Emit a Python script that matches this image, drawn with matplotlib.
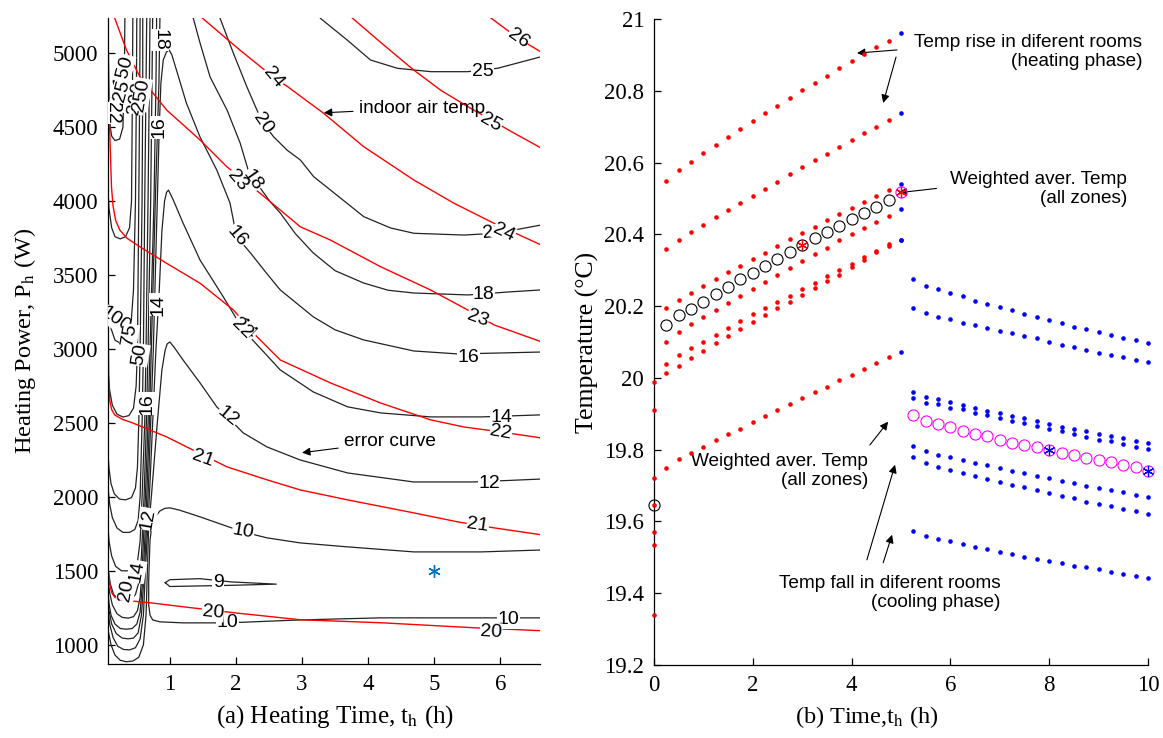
import matplotlib
matplotlib.use("Agg")
import matplotlib.pyplot as plt

plt.rcParams['font.family'] = ['Liberation Serif', 'DejaVu Serif']
plt.rcParams['mathtext.fontset'] = 'stix'

# ---------------- (a) error curves (black) ----------------
# peaked contours: right branch -> peak -> left branch -> bowl near left edge
err16_t = [6.62, 5.96, 5.36, 4.69, 3.93, 3.5, 3.17, 2.67, 2.45, 2.22, 2.01, 1.91, 1.71, 1.457, 1.25, 1.10, 1.03, 0.99, 0.95,
           0.90, 0.865, 0.84, 0.81, 0.78, 0.75, 0.71, 0.67, 0.615, 0.57, 0.52, 0.45, 0.37, 0.28, 0.19, 0.12, 0.08, 0.06]
err16_P = [2980, 2973, 2967, 2987, 3062, 3130, 3218, 3400, 3520, 3650, 3760, 3988, 4211, 4434, 4664, 4887, 4990, 5022, 5010,
           4955, 4800, 4500, 4000, 3500, 3000, 2500, 2000, 1500, 1200, 1080, 1045, 1040, 1045, 1075, 1140, 1230, 1330]
err14_t = [6.62, 5.71, 4.95, 4.19, 3.69, 3.17, 2.67, 2.4, 2.11, 1.81, 1.457, 1.20, 1.05, 0.98, 0.95,
           0.92, 0.88, 0.84, 0.79, 0.74, 0.69, 0.63, 0.60, 0.55, 0.48, 0.39, 0.30, 0.21, 0.14, 0.09, 0.06]
err14_P = [2555, 2541, 2541, 2568, 2609, 2710, 2859, 2990, 3130, 3352, 3602, 3852, 4010, 4075, 4060,
           4000, 3800, 3400, 3000, 2500, 2000, 1500, 1200, 1040, 980, 965, 968, 990, 1050, 1140, 1250]
err12_t = [6.62, 5.6, 4.69, 3.69, 2.97, 2.47, 2.11, 1.87, 1.71, 1.457, 1.20, 1.06, 1.0, 0.96,
           0.93, 0.88, 0.81, 0.72, 0.68, 0.66, 0.64, 0.60, 0.53, 0.44, 0.34, 0.25, 0.17, 0.11, 0.07, 0.05]
err12_P = [2121, 2101, 2101, 2162, 2250, 2338, 2433, 2541, 2609, 2771, 2926, 3015, 3048, 3035,
           2994, 2859, 2500, 2000, 1800, 1500, 1200, 1000, 915, 890, 885, 895, 930, 1000, 1090, 1170]
err10_t = [6.62, 5.71, 4.69, 3.69, 2.97, 2.47, 2.11, 1.457, 1.15, 1.0, 0.92, 0.85, 0.74, 0.70, 0.68, 0.68,
           0.70, 0.74, 0.85, 1.20, 1.87, 2.97, 4.19, 5.71, 6.62]
err10_P = [1641, 1628, 1628, 1662, 1689, 1723, 1763, 1865, 1910, 1926, 1922, 1905, 1844, 1709, 1439, 1270,
           1200, 1168, 1155, 1148, 1148, 1168, 1182, 1182, 1182]
err9_t = [0.93, 1.0, 1.457, 1.93, 2.61, 1.93, 1.457, 1.0, 0.93]
err9_P = [1420, 1440, 1447, 1425, 1410, 1402, 1398, 1394, 1420]

# contours leaving through the top edge
err25_t = [3.278, 3.683, 4.036, 4.442, 4.947, 5.504, 5.959, 6.616]
err25_P = [5237, 5090, 4955, 4899, 4876, 4876, 4899, 4977]
err20_t = [1.760, 1.962, 2.165, 2.317, 2.417, 2.569, 2.772, 2.974, 3.176, 3.58, 3.935, 4.34, 4.693, 5.452, 5.907, 6.211, 6.616]
err20_P = [5237, 5000, 4774, 4617, 4527, 4436, 4346, 4279, 4166, 4022, 3895, 3819, 3783, 3771, 3783, 3805, 3839]
err18_t = [1.355, 1.457, 1.609, 1.866, 2.064, 2.185, 2.35, 2.52, 2.671, 2.9, 3.17, 3.5, 3.93, 4.3, 4.69, 5.51, 6.12, 6.62]
err18_P = [5237, 5070, 4840, 4616, 4393, 4211, 4100, 3995, 3920, 3780, 3650, 3530, 3447, 3398, 3379, 3366, 3386, 3400]

# the steep bundle near t = 0.3 .. 0.85 (each bends into a bowl at the left edge)
bundle_t = [
    [0.85, 0.835, 0.78, 0.72, 0.69, 0.65, 0.60, 0.55, 0.50, 0.43, 0.34, 0.25, 0.17, 0.11, 0.08, 0.06],
    [0.80, 0.79, 0.76, 0.70, 0.67, 0.63, 0.58, 0.55, 0.51, 0.45, 0.37, 0.28, 0.20, 0.13, 0.09, 0.06],
    [0.74, 0.73, 0.71, 0.67, 0.645, 0.61, 0.57, 0.53, 0.48, 0.41, 0.32, 0.23, 0.15, 0.10, 0.07, 0.05],
    [0.70, 0.69, 0.67, 0.64, 0.62, 0.58, 0.55, 0.51, 0.45, 0.37, 0.27, 0.18, 0.12, 0.08, 0.06],
    [0.65, 0.64, 0.62, 0.60, 0.58, 0.55, 0.52, 0.47, 0.39, 0.29, 0.20, 0.13, 0.09, 0.06],
    [0.59, 0.59, 0.58, 0.55, 0.53, 0.51, 0.48, 0.42, 0.33, 0.24, 0.16, 0.11, 0.08, 0.06],
    [0.55, 0.545, 0.53, 0.51, 0.49, 0.45, 0.38, 0.29, 0.20, 0.13, 0.09, 0.06],
    [0.50, 0.495, 0.48, 0.45, 0.41, 0.34, 0.25, 0.17, 0.11, 0.08, 0.06],
    [0.44, 0.435, 0.42, 0.39, 0.33, 0.25, 0.17, 0.12, 0.08, 0.06],
    [0.32, 0.31, 0.29, 0.24, 0.17, 0.12, 0.09, 0.06],
]
bundle_P = [
    [5239, 4800, 4000, 3000, 2500, 2000, 1500, 1220, 1140, 1110, 1105, 1110, 1140, 1200, 1280, 1380],
    [5239, 4800, 4000, 3000, 2500, 2000, 1500, 1320, 1230, 1190, 1180, 1185, 1210, 1270, 1350, 1450],
    [5239, 4800, 4000, 3000, 2500, 2000, 1600, 1420, 1340, 1305, 1300, 1305, 1340, 1410, 1500, 1580],
    [5239, 4800, 4000, 3000, 2500, 2000, 1700, 1560, 1510, 1500, 1500, 1530, 1600, 1700, 1820],
    [5239, 4800, 4000, 3000, 2500, 2000, 1840, 1780, 1760, 1760, 1790, 1860, 1950, 2080],
    [5239, 4800, 4000, 3000, 2500, 2200, 2060, 1995, 1980, 1985, 2020, 2090, 2190, 2320],
    [5239, 4800, 4000, 3000, 2750, 2600, 2550, 2540, 2560, 2620, 2720, 2880],
    [5239, 4800, 4000, 3400, 3150, 3060, 3040, 3060, 3140, 3250, 3380],
    [5239, 4800, 4000, 3820, 3760, 3745, 3760, 3820, 3950, 4100],
    [5239, 4800, 4500, 4420, 4410, 4440, 4530, 4700],
]

# ---------------- (a) indoor air temperature curves (red) ----------------
temp26_t = [5.857, 6.267, 6.616]
temp26_P = [5239, 5103, 5009]
temp25_t = [3.76, 4.2, 4.69, 5.1, 5.51, 6.21, 6.616]
temp25_P = [5239, 5070, 4887, 4750, 4639, 4460, 4360]
temp24_t = [1.49, 2.06, 2.565, 2.79, 3.328, 3.935, 4.693, 5.30, 5.907, 6.616]
temp24_P = [5239, 5022, 4840, 4772, 4594, 4368, 4143, 3986, 3850, 3704]
temp23_t = [0.167, 0.344, 0.546, 0.951, 1.457, 1.862, 2.367, 2.974, 3.43, 4.188, 4.947, 5.504, 5.907, 6.616]
temp23_P = [5237, 5022, 4842, 4617, 4414, 4233, 4053, 3827, 3737, 3557, 3399, 3265, 3163, 3050]
temp22_t = [0.061, 0.091, 0.117, 0.14, 0.18, 0.243, 0.35, 0.546, 0.951, 1.457, 1.962, 2.317, 2.671, 3.43, 4.188, 4.947, 5.448, 6.01, 6.616]
temp22_P = [5239, 4460, 4098, 3970, 3870, 3805, 3750, 3692, 3580, 3445, 3264, 3084, 2926, 2771, 2635, 2521, 2473, 2439, 2399]
temp21_t = [0.061, 0.076, 0.091, 0.12, 0.167, 0.28, 0.44, 0.956, 1.35, 1.866, 2.473, 2.974, 3.687, 4.689, 5.357, 5.9, 6.616]
temp21_P = [3386, 2791, 2650, 2590, 2554, 2525, 2500, 2405, 2317, 2203, 2115, 2047, 1980, 1892, 1831, 1791, 1744]
temp20_t = [0.061, 0.09, 0.121, 0.17, 0.243, 0.698, 1.199, 1.957, 2.974, 4.188, 5.6, 6.616]
temp20_P = [1527, 1410, 1352, 1320, 1304, 1284, 1257, 1217, 1169, 1149, 1115, 1095]

# contour labels: text, t, P, rotation
err_labels = ['25', '20', '20', '18', '18', '16', '16', '14', '14', '12', '12', '10', '9', '10', '10',
              '18', '16', '14', '16', '12', '14', '20', '150', '125', '200', '250', '100', '75', '50']
err_lab_t = [5.73, 2.41, 5.90, 2.25, 5.75, 2.01, 5.52, 2.14, 6.01, 1.87, 5.83, 2.11, 1.73, 1.87, 6.12,
             0.85, 0.835, 0.82, 0.65, 0.665, 0.50, 0.34, 0.30, 0.25, 0.50, 0.57, 0.17, 0.39, 0.55]
err_lab_P = [4876, 4529, 3785, 4143, 3366, 3760, 2940, 3130, 2535, 2541, 2094, 1763, 1418, 1148, 1168,
             5090, 4500, 3300, 2630, 1850, 1495, 1370, 4880, 4720, 4700, 4720, 3196, 3095, 2960]
err_lab_rot = [0, -55, 5, -55, 0, -50, 0, -45, 0, -40, 0, -10, 0, 0, 0,
               -90, 90, 90, 90, 80, 80, 80, 75, 75, 80, 80, -35, 80, 80]

temp_labels = ['26', '25', '24', '24', '23', '23', '22', '22', '22', '21', '21', '20', '20']
temp_lab_t = [6.27, 5.86, 2.57, 6.05, 2.02, 5.66, 0.14, 2.09, 6.01, 1.50, 5.66, 1.65, 5.86]
temp_lab_P = [5103, 4535, 4840, 3785, 4143, 3210, 4597, 3142, 2439, 2263, 1811, 1217, 1088]
temp_lab_rot = [-35, -30, -50, -25, -50, -20, -90, -45, -10, -20, -8, -5, -3]

# chosen operating point
point_t = [5]
point_P = [1500]

# ---------------- (b) room temperatures ----------------
t_start = [0]
start_temps = [19.99, 19.91, 19.72, 19.645, 19.57, 19.535, 19.34]

t_heat = [0.25, 0.5, 0.75, 1.0, 1.25, 1.5, 1.75, 2.0, 2.25, 2.5, 2.75, 3.0, 3.25, 3.5, 3.75, 4.0, 4.25, 4.5, 4.75]
heat_rooms = [
    [20.55, 20.579, 20.603, 20.626, 20.648, 20.671, 20.694, 20.716, 20.737, 20.759, 20.78, 20.801, 20.822, 20.842, 20.863, 20.883, 20.903, 20.923, 20.94],
    [20.359, 20.384, 20.406, 20.426, 20.447, 20.467, 20.488, 20.508, 20.527, 20.547, 20.567, 20.587, 20.606, 20.625, 20.643, 20.662, 20.682, 20.70, 20.719],
    [20.194, 20.217, 20.238, 20.257, 20.277, 20.296, 20.313, 20.332, 20.349, 20.368, 20.386, 20.403, 20.421, 20.439, 20.456, 20.473, 20.49, 20.508, 20.525],
    [20.10, 20.128, 20.15, 20.17, 20.19, 20.208, 20.229, 20.249, 20.268, 20.287, 20.307, 20.326, 20.345, 20.363, 20.384, 20.40, 20.417, 20.435, 20.452],
    [20.04, 20.064, 20.084, 20.10, 20.12, 20.138, 20.158, 20.178, 20.196, 20.212, 20.228, 20.247, 20.265, 20.283, 20.30, 20.318, 20.336, 20.354, 20.372],
    [20.014, 20.033, 20.056, 20.075, 20.097, 20.116, 20.135, 20.155, 20.175, 20.194, 20.212, 20.232, 20.25, 20.269, 20.288, 20.308, 20.328, 20.35, 20.368],
    [19.748, 19.773, 19.79, 19.807, 19.826, 19.843, 19.859, 19.877, 19.894, 19.911, 19.928, 19.943, 19.961, 19.976, 19.993, 20.009, 20.024, 20.041, 20.058],
]
t_switch = [5.0]
switch_temps = [20.96, 20.737, 20.54, 20.47, 20.385, 20.385, 20.072]

t_cool = [5.25, 5.5, 5.75, 6.0, 6.25, 6.5, 6.75, 7.0, 7.25, 7.5, 7.75, 8.0, 8.25, 8.5, 8.75, 9.0, 9.25, 9.5, 9.75, 10.0]
cool_rooms = [
    [20.275, 20.257, 20.247, 20.236, 20.227, 20.215, 20.206, 20.197, 20.188, 20.178, 20.169, 20.16, 20.152, 20.143, 20.136, 20.127, 20.12, 20.112, 20.106, 20.097],
    [20.194, 20.18, 20.171, 20.164, 20.154, 20.148, 20.138, 20.132, 20.124, 20.117, 20.11, 20.101, 20.092, 20.085, 20.078, 20.07, 20.064, 20.058, 20.05, 20.043],
    [19.962, 19.948, 19.94, 19.934, 19.925, 19.917, 19.909, 19.902, 19.894, 19.888, 19.88, 19.871, 19.864, 19.857, 19.852, 19.844, 19.838, 19.832, 19.825, 19.818],
    [19.943, 19.931, 19.926, 19.917, 19.912, 19.903, 19.897, 19.888, 19.881, 19.874, 19.867, 19.858, 19.852, 19.844, 19.836, 19.828, 19.823, 19.815, 19.807, 19.801],
    [19.809, 19.795, 19.786, 19.779, 19.772, 19.764, 19.758, 19.75, 19.742, 19.736, 19.728, 19.721, 19.714, 19.707, 19.70, 19.694, 19.688, 19.682, 19.674, 19.668],
    [19.781, 19.762, 19.753, 19.744, 19.735, 19.727, 19.718, 19.71, 19.702, 19.696, 19.688, 19.679, 19.672, 19.665, 19.655, 19.649, 19.642, 19.635, 19.628, 19.621],
    [19.573, 19.56, 19.552, 19.546, 19.538, 19.53, 19.524, 19.516, 19.51, 19.502, 19.495, 19.49, 19.484, 19.477, 19.472, 19.467, 19.46, 19.454, 19.447, 19.442],
]

# weighted average (all zones)
t_avg_heat = [0] + t_heat
avg_heat = [19.645, 20.148, 20.175, 20.191, 20.212, 20.234, 20.254, 20.275, 20.293, 20.313, 20.331,
            20.35, 20.37, 20.389, 20.406, 20.423, 20.443, 20.46, 20.477, 20.497]
avg_switch = [20.517]
avg_cool = [19.897, 19.881, 19.871, 19.862, 19.852, 19.843, 19.837, 19.827, 19.82, 19.813, 19.807,
            19.799, 19.79, 19.784, 19.776, 19.772, 19.765, 19.758, 19.751, 19.742]
star_red_t = [3.0, 5.0]
star_red_T = [20.37, 20.517]
star_blue_t = [8.0, 10.0]
star_blue_T = [19.799, 19.742]

# ---------------- figure ----------------
fig = plt.figure(figsize=(11.63, 7.38), dpi=100)
ax1 = fig.add_axes([0.0929, 0.1003, 0.3714, 0.8753])
ax2 = fig.add_axes([0.5623, 0.0989, 0.4248, 0.8753])

sans = ['Liberation Sans', 'DejaVu Sans']
lab_box = dict(facecolor='white', edgecolor='none', pad=0.3)

# (a)
for tt, pp in [(err25_t, err25_P), (err20_t, err20_P), (err18_t, err18_P), (err16_t, err16_P),
               (err14_t, err14_P), (err12_t, err12_P), (err10_t, err10_P), (err9_t, err9_P)]:
    ax1.plot(tt, pp, color='#222222', lw=0.9)
for tt, pp in zip(bundle_t, bundle_P):
    ax1.plot(tt, pp, color='#222222', lw=0.9)
for tt, pp in [(temp26_t, temp26_P), (temp25_t, temp25_P), (temp24_t, temp24_P), (temp23_t, temp23_P),
               (temp22_t, temp22_P), (temp21_t, temp21_P), (temp20_t, temp20_P)]:
    ax1.plot(tt, pp, color='red', lw=1.0)

for s, x, y, r in zip(err_labels, err_lab_t, err_lab_P, err_lab_rot):
    ax1.text(x, y, s, rotation=r, ha='center', va='center', fontsize=14, family=sans,
             bbox=lab_box, rotation_mode='anchor', clip_on=True)
for s, x, y, r in zip(temp_labels, temp_lab_t, temp_lab_P, temp_lab_rot):
    ax1.text(x, y, s, rotation=r, ha='center', va='center', fontsize=14, family=sans,
             bbox=lab_box, rotation_mode='anchor', clip_on=True)

ax1.plot(point_t, point_P, linestyle='none', marker=(6, 2, 0), ms=9, mew=1.0, color='#0072BD')

ax1.annotate('indoor air temp', xy=(3.33, 4598), xytext=(3.855, 4630), fontsize=13.7, family=sans,
             va='center', ha='left',
             arrowprops=dict(arrowstyle='-|>', color='k', lw=0.8, mutation_scale=12, shrinkA=2, shrinkB=0))
ax1.annotate('error curve', xy=(3.0, 2299), xytext=(3.63, 2374), fontsize=13.7, family=sans,
             va='center', ha='left',
             arrowprops=dict(arrowstyle='-|>', color='k', lw=0.8, mutation_scale=12, shrinkA=2, shrinkB=0))

ax1.set_xlim(0.065, 6.6)
ax1.set_ylim(870, 5239)
ax1.set_xticks([1, 2, 3, 4, 5, 6])
ax1.set_yticks([1000, 1500, 2000, 2500, 3000, 3500, 4000, 4500, 5000])
ax1.set_xlabel('(a) Heating Time, t$_\\mathrm{h}$ (h)', fontsize=18)
ax1.set_ylabel('Heating Power, P$_\\mathrm{h}$ (W)', fontsize=17.5)
ax1.xaxis.set_label_coords(0.525, -0.06)
ax1.yaxis.set_label_coords(-0.162, 0.5)

# (b)
dot = dict(linestyle='none', marker='o', ms=3.3, mew=0, clip_on=False, zorder=4)
ax2.plot(t_start * len(start_temps), start_temps, color='red', **dot)
for row in heat_rooms:
    ax2.plot(t_heat, row, color='red', **dot)
ax2.plot(t_switch * len(switch_temps), switch_temps, color='blue', **dot)
for row in cool_rooms:
    ax2.plot(t_cool, row, color='blue', **dot)

ring = dict(linestyle='none', marker='o', ms=8, mfc='none', mew=0.8, clip_on=False, zorder=4)
ax2.plot(t_avg_heat, avg_heat, mec='k', **ring)
ax2.plot(t_switch, avg_switch, mec='magenta', **ring)
ax2.plot(t_cool, avg_cool, mec='magenta', **ring)
ax2.plot(star_red_t, star_red_T, linestyle='none', marker=(6, 2, 0), ms=8, mew=0.9, color='red',
         clip_on=False, zorder=5)
ax2.plot(star_blue_t, star_blue_T, linestyle='none', marker=(6, 2, 0), ms=8, mew=0.9, color='blue',
         clip_on=False, zorder=5)

arr = dict(arrowstyle='-|>', color='k', lw=0.8, mutation_scale=12, shrinkA=0, shrinkB=0)
note = dict(ha='right', va='center', multialignment='right', fontsize=13.7, family=sans, linespacing=1.15)
ax2.text(9.88, 20.908, 'Temp rise in diferent rooms\n(heating phase)', **note)
ax2.annotate('', xy=(4.11, 20.905), xytext=(4.92, 20.914), arrowprops=arr)
ax2.annotate('', xy=(4.64, 20.766), xytext=(4.90, 20.894), arrowprops=arr)

ax2.text(9.575, 20.526, 'Weighted aver. Temp\n(all zones)', **note)
ax2.annotate('', xy=(4.95, 20.516), xytext=(5.72, 20.528), arrowprops=arr)

ax2.text(4.33, 19.741, 'Weighted aver. Temp\n(all zones)', **note)
ax2.annotate('', xy=(4.74, 19.878), xytext=(4.37, 19.813), arrowprops=arr)

ax2.text(7.02, 19.401, 'Temp fall in diferent rooms\n(cooling phase)', **note)
ax2.annotate('', xy=(4.88, 19.758), xytext=(4.31, 19.493), arrowprops=arr)
ax2.annotate('', xy=(4.82, 19.563), xytext=(4.64, 19.485), arrowprops=arr)

ax2.set_xlim(0, 10)
ax2.set_ylim(19.2, 21)
ax2.set_xticks([0, 2, 4, 6, 8, 10])
ax2.set_yticks([19.2, 19.4, 19.6, 19.8, 20, 20.2, 20.4, 20.6, 20.8, 21])
ax2.set_yticklabels(['19.2', '19.4', '19.6', '19.8', '20', '20.2', '20.4', '20.6', '20.8', '21'])
ax2.set_xlabel('(b) Time,t$_\\mathrm{h}$ (h)', fontsize=17.5)
ax2.set_ylabel('Temperature (\u00b0C)', fontsize=18.5)
ax2.xaxis.set_label_coords(0.43, -0.06)
ax2.yaxis.set_label_coords(-0.112, 0.5)

for ax in (ax1, ax2):
    ax.spines['top'].set_visible(False)
    ax.spines['right'].set_visible(False)
    ax.spines['left'].set_linewidth(0.9)
    ax.spines['bottom'].set_linewidth(0.9)
    ax.tick_params(direction='in', length=5, width=0.9, labelsize=16.5, pad=7)

fig.savefig('out.png', dpi=100)
